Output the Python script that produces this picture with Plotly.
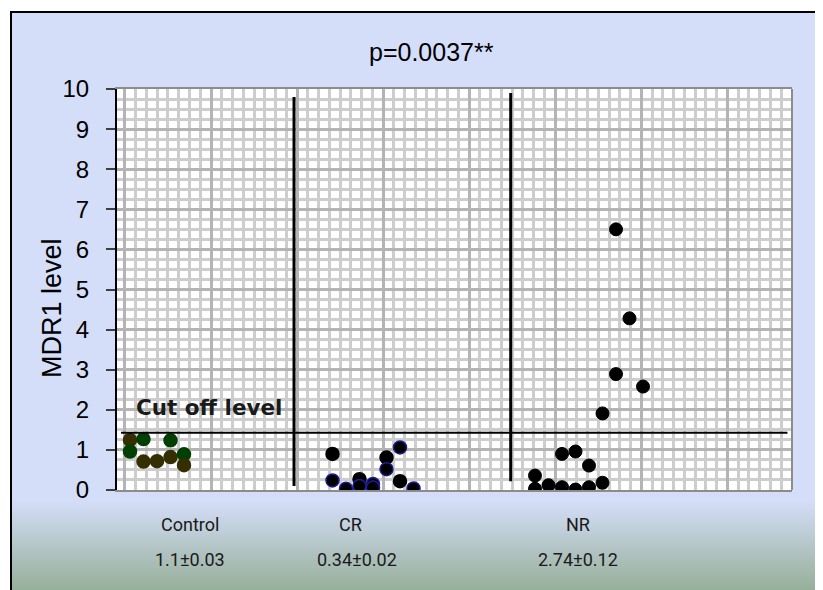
import plotly.graph_objects as go

# ---------------- data ----------------
# x = jitter slot (column) within the chart, y = MDR1 level
control_x = [0, 1, 3, 0, 1, 2, 3, 4, 4]
control_y = [1.25, 1.27, 1.24, 0.96, 0.71, 0.72, 0.82, 0.89, 0.62]
control_kind = ["olive", "green", "green", "green", "olive", "olive", "olive", "green", "olive"]

cr_x = [15, 15, 16, 17, 17, 18, 18, 19, 19, 20, 20, 21]
cr_y = [0.90, 0.24, 0.03, 0.27, 0.10, 0.15, 0.06, 0.81, 0.52, 1.06, 0.22, 0.04]
cr_kind = ["black", "navy", "navy", "black", "navy", "navy", "navy", "black", "navy", "navy", "black", "navy"]

nr_x = [30, 30, 31, 32, 32, 33, 33, 34, 34, 35, 35, 36, 36, 37, 38]
nr_y = [0.36, 0.03, 0.12, 0.90, 0.07, 0.96, 0.01, 0.61, 0.07, 0.18, 1.91, 6.50, 2.89, 4.28, 2.58]

group_names = ["Control", "CR", "NR"]
group_stats = ["1.1±0.03", "0.34±0.02", "2.74±0.12"]
group_name_x = [4.44, 16.3, 33.2]
group_stat_x = [4.44, 16.8, 33.2]

cutoff_level = 1.43
title_text = "p=0.0037**"
y_title = "MDR1 level"
cutoff_text = "Cut off level"

# ---------------- layout helpers ----------------
# page body has an 8px margin, so the figure is 8px smaller than the window
OFF = 8
W, H = 823 - OFF, 590 - OFF
L, R, T, B = 117 - OFF, 31, 89 - OFF, 100
PW, PH = W - L - R, H - T - B


def px_x(px):  # screen px -> paper x
    return (px - OFF - L) / PW


def px_y(py):  # screen px -> paper y
    return (H - B - (py - OFF)) / PH


fig = go.Figure()

colmap = {"olive": "#352e00", "green": "#013f02", "black": "#000000", "navy": "#000000"}
linemap = {"olive": "#352e00", "green": "#013f02", "black": "#000000", "navy": "#1c1c96"}

for xs, ys, kinds in [(control_x, control_y, control_kind), (cr_x, cr_y, cr_kind)]:
    fig.add_trace(go.Scatter(
        x=xs, y=ys, mode="markers",
        marker=dict(size=13, color=[colmap[k] for k in kinds],
                    line=dict(color=[linemap[k] for k in kinds], width=1.5)),
        showlegend=False, hoverinfo="skip"))

fig.add_trace(go.Scatter(
    x=nr_x, y=nr_y, mode="markers",
    marker=dict(size=13, color="#000000", line=dict(color="#000000", width=1)),
    showlegend=False, hoverinfo="skip"))

shapes = []
# chart background (light blue)
shapes.append(dict(type="rect", xref="paper", yref="paper", layer="below",
                   x0=px_x(11), x1=px_x(900), y0=px_y(700), y1=px_y(12),
                   fillcolor="#d5def9", line=dict(width=0)))
# bottom gradient
top = (213, 222, 249)
bot = (150, 175, 153)
N = 45
for i in range(N):
    t = (i + 0.5) / N
    c = tuple(int(round(top[k] + (bot[k] - top[k]) * t)) for k in range(3))
    y0 = 500 + i * 2
    shapes.append(dict(type="rect", xref="paper", yref="paper", layer="below",
                       x0=px_x(11), x1=px_x(900), y0=px_y(y0 + 2.5), y1=px_y(y0),
                       fillcolor="rgb(%d,%d,%d)" % c, line=dict(width=0)))
# plot area white
shapes.append(dict(type="rect", xref="paper", yref="paper", layer="below",
                   x0=0, x1=1, y0=0, y1=1, fillcolor="white", line=dict(width=0)))
# outer frame (left and top edges only; the rest lies beyond the picture)
shapes.append(dict(type="line", xref="paper", yref="paper", layer="below",
                   x0=px_x(11), x1=px_x(11), y0=px_y(700), y1=px_y(12),
                   line=dict(color="black", width=2)))
shapes.append(dict(type="line", xref="paper", yref="paper", layer="below",
                   x0=px_x(10), x1=px_x(900), y0=px_y(12), y1=px_y(12),
                   line=dict(color="black", width=2)))
# right border of plot area
shapes.append(dict(type="line", xref="paper", yref="paper", layer="above",
                   x0=1, x1=1, y0=0, y1=1, line=dict(color="#8c8c8c", width=2)))
# group separators
shapes.append(dict(type="line", xref="x", yref="y", x0=12.15, x1=12.15, y0=0.1, y1=9.8,
                   line=dict(color="black", width=3)))
shapes.append(dict(type="line", xref="x", yref="y", x0=28.2, x1=28.2, y0=0.22, y1=9.9,
                   line=dict(color="black", width=3)))
# cut-off line
shapes.append(dict(type="line", xref="x", yref="y", x0=-0.67, x1=48.7,
                   y0=cutoff_level, y1=cutoff_level, line=dict(color="black", width=2)))

annotations = []
annotations.append(dict(text=title_text, xref="paper", yref="paper",
                        x=px_x(431), y=px_y(52), xanchor="center", yanchor="middle",
                        showarrow=False,
                        font=dict(family="Liberation Sans, Arial, sans-serif", size=25, color="black")))
annotations.append(dict(text=y_title, xref="paper", yref="paper", textangle=-90,
                        x=px_x(52), y=px_y(308), xanchor="center", yanchor="middle",
                        showarrow=False,
                        font=dict(family="Liberation Sans, Arial, sans-serif", size=27, color="black")))
annotations.append(dict(text="<b>" + cutoff_text + "</b>", xref="x", yref="y",
                        x=0.3, y=2.05, xanchor="left", yanchor="middle", showarrow=False,
                        font=dict(family="DejaVu Sans, sans-serif", size=21.5, color="#1a1a1a")))
for name, nx, stat, sx in zip(group_names, group_name_x, group_stats, group_stat_x):
    annotations.append(dict(text=name, xref="x", yref="paper", x=nx, y=px_y(524),
                            xanchor="center", yanchor="middle", showarrow=False,
                            font=dict(family="Liberation Sans Narrow, Roboto, sans-serif", size=18, color="#1a1a1a")))
    annotations.append(dict(text=stat, xref="x", yref="paper", x=sx, y=px_y(559),
                            xanchor="center", yanchor="middle", showarrow=False,
                            font=dict(family="Liberation Sans Narrow, Roboto, sans-serif", size=18, color="#1a1a1a")))

fig.update_layout(
    width=W, height=H,
    margin=dict(l=L, r=R, t=T, b=B, pad=0),
    paper_bgcolor="white",
    plot_bgcolor="white",
    shapes=shapes,
    annotations=annotations,
    showlegend=False,
    xaxis=dict(range=[(117 - 130) / 13.5, (792 - 130) / 13.5],
               tick0=6, dtick=6.375, showticklabels=False, ticks="",
               showgrid=True, gridcolor="#b4b4b4", gridwidth=2.5,
               minor=dict(tick0=6, dtick=6.375 / 8, showgrid=True, gridcolor="#cdcdcd", gridwidth=2.5),
               showline=True, linecolor="#8c8c8c", linewidth=2, mirror=True,
               zeroline=False, fixedrange=True),
    yaxis=dict(range=[0, 10], tick0=0, dtick=1, ticks="outside", ticklen=9,
               tickcolor="#404040", tickwidth=1.5, ticklabelstandoff=12,
               tickfont=dict(family="Liberation Sans, Arial, sans-serif", size=24, color="black"),
               showgrid=True, gridcolor="#b4b4b4", gridwidth=2.5,
               minor=dict(dtick=0.25, showgrid=True, gridcolor="#cdcdcd", gridwidth=2.5),
               showline=True, linecolor="black", linewidth=2,
               zeroline=False, fixedrange=True),
)

fig.write_html("out.html")
